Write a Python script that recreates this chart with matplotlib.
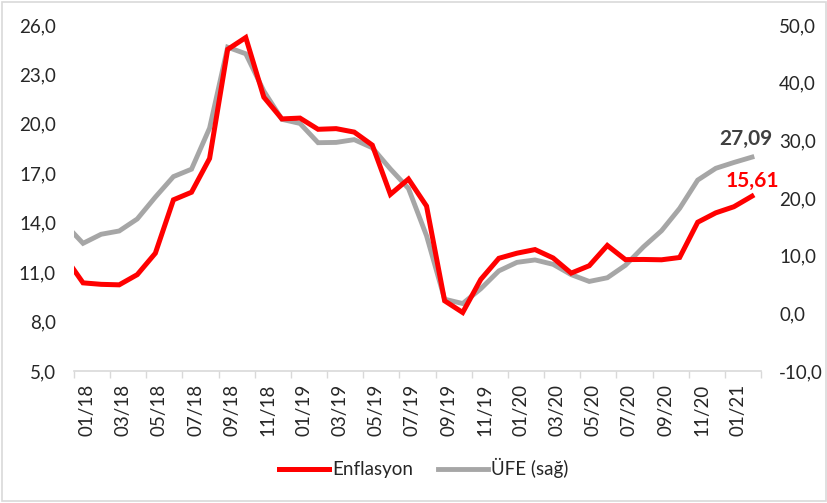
import matplotlib
matplotlib.use("Agg")
import matplotlib.pyplot as plt
from matplotlib.ticker import FixedLocator, FuncFormatter, NullFormatter
import matplotlib.transforms as mtransforms

# Month labels (Dec 2017 .. Feb 2021)
months = ["12/17",
          "01/18", "02/18", "03/18", "04/18", "05/18", "06/18", "07/18", "08/18", "09/18", "10/18", "11/18", "12/18",
          "01/19", "02/19", "03/19", "04/19", "05/19", "06/19", "07/19", "08/19", "09/19", "10/19", "11/19", "12/19",
          "01/20", "02/20", "03/20", "04/20", "05/20", "06/20", "07/20", "08/20", "09/20", "10/20", "11/20", "12/20",
          "01/21", "02/21"]

enflasyon = [11.92,
             10.35, 10.26, 10.23, 10.85, 12.15, 15.39, 15.85, 17.90, 24.52, 25.24, 21.62, 20.30,
             20.35, 19.67, 19.71, 19.50, 18.71, 15.72, 16.65, 15.01, 9.26, 8.55, 10.56, 11.84,
             12.15, 12.37, 11.86, 10.94, 11.39, 12.62, 11.76, 11.77, 11.75, 11.89, 14.03, 14.60,
             14.97, 15.61]

ufe = [15.47,
       12.14, 13.71, 14.28, 16.37, 20.16, 23.71, 25.00, 32.13, 46.15, 45.01, 38.54, 33.64,
       32.93, 29.59, 29.64, 30.12, 28.71, 25.04, 21.66, 13.45, 2.45, 1.70, 4.26, 7.36,
       8.84, 9.26, 8.50, 6.71, 5.53, 6.17, 8.33, 11.53, 14.33, 18.20, 23.11, 25.15,
       26.16, 27.09]

left_ticks = [5, 8, 11, 14, 17, 20, 23, 26]
right_ticks = [-10, 0, 10, 20, 30, 40, 50]

FONT = ["Lato", "DejaVu Sans"]
plt.rcParams['font.family'] = FONT
FS = 13.5

RED = "#FF0000"
GRAY = "#A6A6A6"
TXT = "#262626"

fig = plt.figure(figsize=(8.28, 5.03), dpi=100)
ax = fig.add_axes([74/828, 1-371/503, (761-74)/828, (371-25)/503])
ax2 = ax.twinx()

x = list(range(-1, len(months) - 1))  # Jan 2018 -> 0

ax.plot(x, enflasyon, color=RED, lw=3.6, solid_joinstyle='miter', label="Enflasyon", zorder=3)
ax2.plot(x, ufe, color=GRAY, lw=3.5, solid_joinstyle='miter', label="ÜFE (sağ)", zorder=2)
ax.set_zorder(ax2.get_zorder() + 1)
ax.patch.set_visible(False)

n = len(months) - 1
ax.set_xlim(-0.5, n - 0.5)
ax.set_ylim(left_ticks[0], left_ticks[-1])
ax2.set_ylim(right_ticks[0], right_ticks[-1])

fmt = FuncFormatter(lambda v, p: f"{v:.1f}".replace(".", ","))
ax.yaxis.set_major_locator(FixedLocator(left_ticks))
ax.yaxis.set_major_formatter(fmt)
ax2.yaxis.set_major_locator(FixedLocator(right_ticks))
ax2.yaxis.set_major_formatter(fmt)
ax.tick_params(axis='y', length=0, pad=13, labelsize=FS, labelcolor=TXT)
ax2.tick_params(axis='y', length=0, pad=13, labelsize=FS, labelcolor=TXT)

# x axis: boundary ticks every 2 months, labels at month centers
ax.xaxis.set_major_locator(FixedLocator([i - 0.5 for i in range(0, n + 1, 2)]))
ax.xaxis.set_major_formatter(NullFormatter())
lab_pos = list(range(0, n, 2))
ax.xaxis.set_minor_locator(FixedLocator(lab_pos))
ax.set_xticks(lab_pos, [months[i + 1] for i in lab_pos], minor=True)
ax.tick_params(axis='x', which='major', length=5, width=1, color="#D9D9D9", direction='out')
ax.tick_params(axis='x', which='minor', length=0, pad=9, labelsize=FS, labelcolor=TXT, labelrotation=90)
offset = mtransforms.ScaledTranslation(4/100, 0, fig.dpi_scale_trans)
for lab in ax.xaxis.get_minorticklabels():
    lab.set_transform(lab.get_transform() + offset)

for a in (ax, ax2):
    for s in ("top", "left", "right"):
        a.spines[s].set_visible(False)
ax2.spines["bottom"].set_visible(False)
ax.spines["bottom"].set_color("#D9D9D9")
ax.spines["bottom"].set_linewidth(1.2)

# data labels for last points
ax2.annotate(f"{ufe[-1]:.2f}".replace(".", ","), (x[-1], ufe[-1]), xytext=(-6, 18),
             textcoords='offset pixels', ha='center', va='center', fontsize=15,
             fontweight='bold', color="#404040")
ax.annotate(f"{enflasyon[-1]:.2f}".replace(".", ","), (x[-1], enflasyon[-1]), xytext=(0, 15),
            textcoords='offset pixels', ha='center', va='center', fontsize=15,
            fontweight='bold', color=RED)

h1, l1 = ax.get_legend_handles_labels()
h2, l2 = ax2.get_legend_handles_labels()
fig.legend(h1 + h2, l1 + l2, loc='center', bbox_to_anchor=(423.5/828, 1 - 468/503), ncol=2,
           frameon=False, fontsize=FS, handlelength=2.7, handletextpad=0.15,
           columnspacing=1.3, labelcolor=TXT)

# chart border
border = plt.Rectangle((2/828, 2/503), 1 - 4/828, 1 - 4/503, transform=fig.transFigure,
                       fill=False, edgecolor="#D9D9D9", lw=1.2)
fig.patches.append(border)

fig.savefig("out.png", dpi=100)
